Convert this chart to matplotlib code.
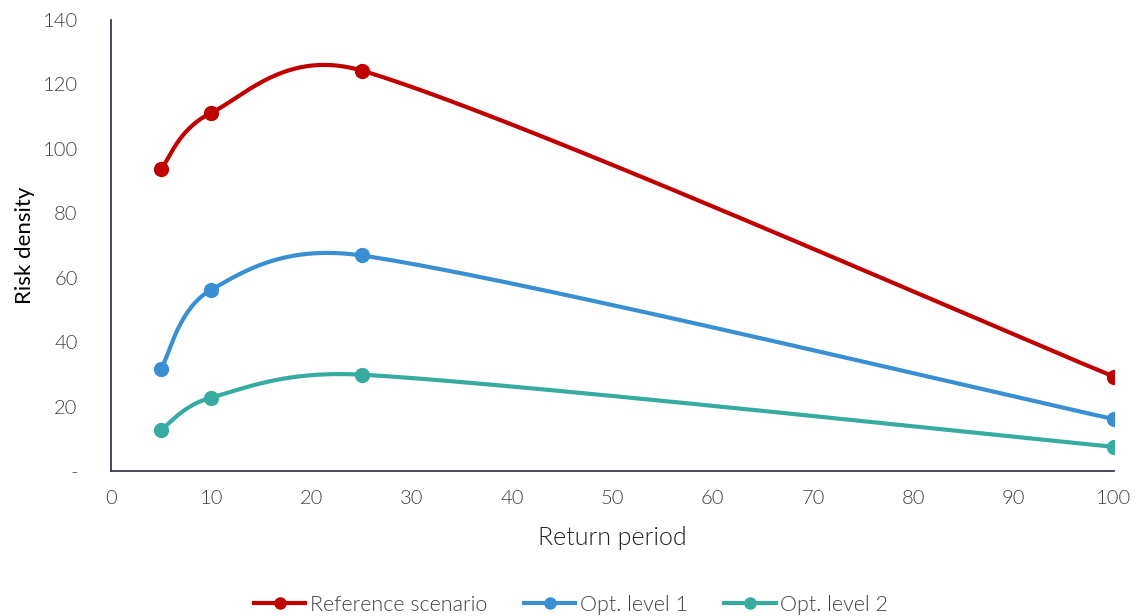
import numpy as np
import matplotlib.pyplot as plt
from matplotlib.lines import Line2D

plt.rcParams['font.family'] = ['Lato', 'DejaVu Sans']

return_period = [5, 10, 25, 100]
reference = [93.8, 111.2, 124.3, 29.3]
opt_level_1 = [31.8, 56.3, 66.9, 16.1]
opt_level_2 = [12.8, 22.8, 29.9, 7.5]

series = [
    ("Reference scenario", reference, "#C00000"),
    ("Opt. level 1", opt_level_1, "#3A8FD2"),
    ("Opt. level 2", opt_level_2, "#36ACA1"),
]


def smooth(ax, xs, ys, n=80):
    """Spreadsheet-style smoothed line in screen space: Bezier control points
    at 1/6 of the neighbour difference, capped at half the segment length."""
    pts = ax.transData.transform(np.column_stack([xs, ys]))
    m = len(pts)
    out = []
    for i in range(m - 1):
        p0 = pts[max(i - 1, 0)]
        p1 = pts[i]
        p2 = pts[i + 1]
        p3 = pts[min(i + 2, m - 1)]
        d12 = np.linalg.norm(p2 - p1)
        v1 = (p2 - p0) / 6
        v2 = (p3 - p1) / 6
        for v in (v1, v2):
            L = np.linalg.norm(v)
            if L > d12 / 2:
                v *= (d12 / 2) / L
        c1 = p1 + v1
        c2 = p2 - v2
        t = np.linspace(0, 1, n)[:, None]
        seg = ((1 - t) ** 3 * p1 + 3 * (1 - t) ** 2 * t * c1
               + 3 * (1 - t) * t ** 2 * c2 + t ** 3 * p2)
        out.append(seg if i == 0 else seg[1:])
    out = np.vstack(out)
    return ax.transData.inverted().transform(out).T


fig = plt.figure(figsize=(11.36, 6.16), dpi=100)
ax = fig.add_axes([111 / 1136, 1 - 471 / 616, 1003 / 1136, 451 / 616])
ax.set_xlim(0, 100)
ax.set_ylim(0, 140)

for name, vals, color in series:
    sx, sy = smooth(ax, return_period, vals)
    ax.plot(sx, sy, color=color, lw=3, solid_capstyle='round', zorder=2)
    ax.plot(return_period, vals, 'o', color=color, ms=10, zorder=3)

ax.set_xticks(range(0, 101, 10))
ax.set_yticks(range(0, 141, 20))
ax.set_yticklabels(['-'] + [str(v) for v in range(20, 141, 20)])
ax.tick_params(length=0, labelsize=14.5, colors='#404040', pad=14)
ax.tick_params(axis='y', pad=24)
for lbl in ax.get_xticklabels() + ax.get_yticklabels():
    lbl.set_fontweight(300)
for side in ('top', 'right'):
    ax.spines[side].set_visible(False)
for side in ('left', 'bottom'):
    ax.spines[side].set_color('#3A3A4A')
    ax.spines[side].set_linewidth(1.3)

ax.set_xlabel("Return period", fontsize=18, color='#202020', labelpad=13,
              fontweight=300)
ax.set_ylabel("Risk density", fontsize=16, color='black', labelpad=5,
              fontweight='normal')

handles = [Line2D([0], [0], color=c, lw=3, marker='o', ms=8) for _, _, c in series]
fig.legend(handles, [s[0] for s in series], loc='center',
           bbox_to_anchor=(571 / 1136, 1 - 605 / 616), ncol=3, frameon=False,
           prop={'size': 15.5, 'weight': 300}, handlelength=2.4,
           columnspacing=1.7, handletextpad=0.2, labelcolor='#404040')

fig.savefig("out.png", dpi=100)
